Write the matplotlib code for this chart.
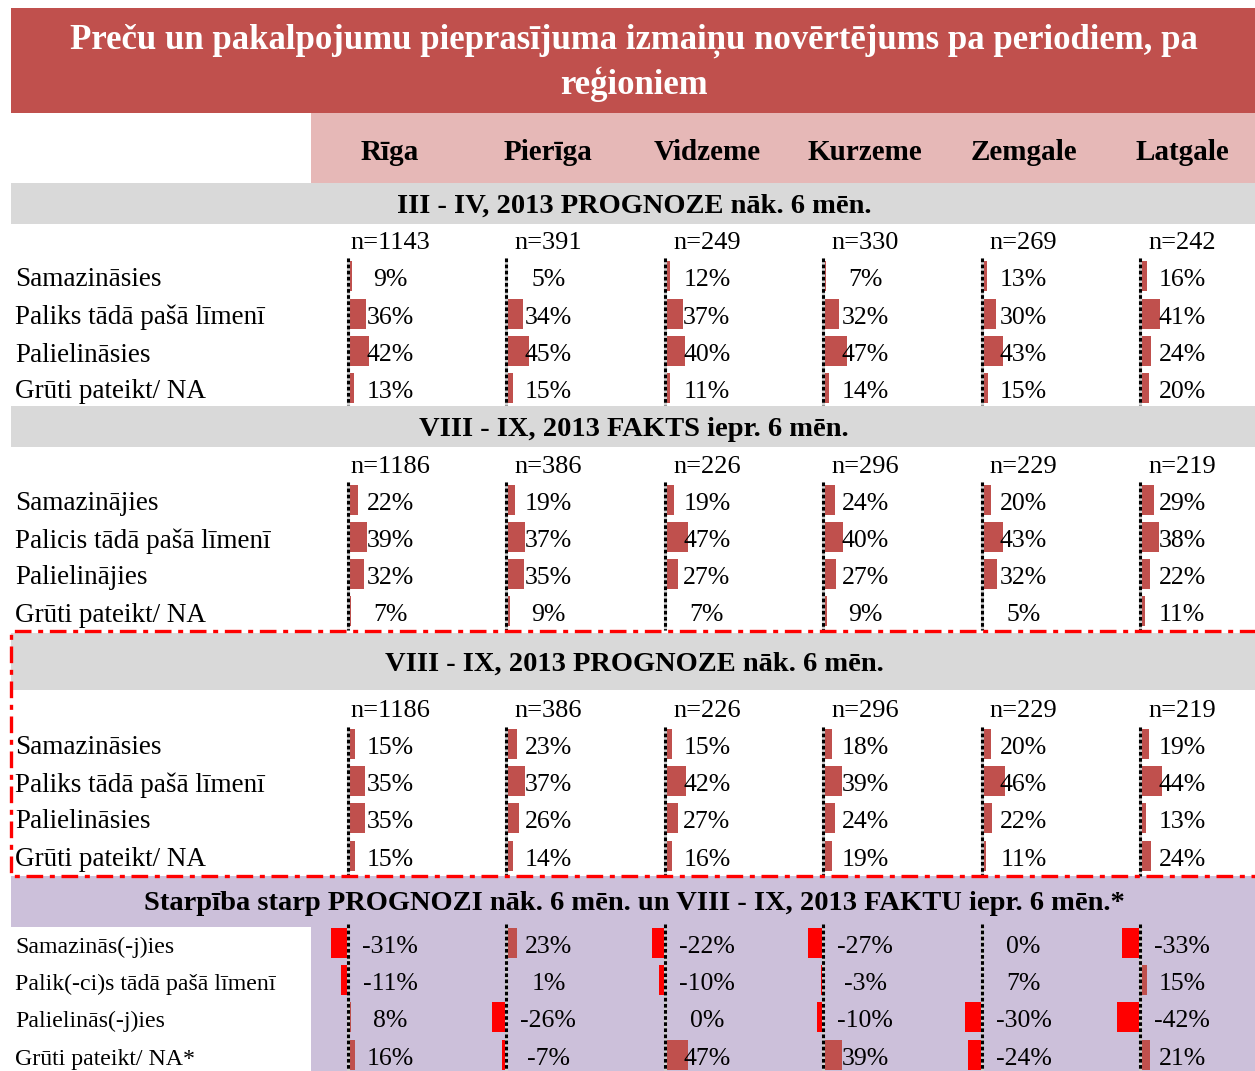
import numpy as np
import matplotlib.pyplot as plt
from matplotlib.patches import Rectangle

plt.rcParams['font.family'] = ['Liberation Serif', 'DejaVu Serif']

title = "Preču un pakalpojumu pieprasījuma izmaiņu novērtējums pa periodiem, pa\nreģioniem"
regions = ['Rīga', 'Pierīga', 'Vidzeme', 'Kurzeme', 'Zemgale', 'Latgale']

sec1_title = "III - IV, 2013 PROGNOZE nāk. 6 mēn."
sec2_title = "VIII - IX, 2013 FAKTS iepr. 6 mēn."
sec3_title = "VIII - IX, 2013 PROGNOZE nāk. 6 mēn."
sec4_title = "Starpība starp PROGNOZI nāk. 6 mēn. un VIII - IX, 2013 FAKTU iepr. 6 mēn.*"

labels_prog = ['Samazināsies', 'Paliks tādā pašā līmenī', 'Palielināsies', 'Grūti pateikt/ NA']
labels_fakt = ['Samazinājies', 'Palicis tādā pašā līmenī', 'Palielinājies', 'Grūti pateikt/ NA']
labels_diff = ['Samazinās(-j)ies', 'Palik(-ci)s tādā pašā līmenī', 'Palielinās(-j)ies', 'Grūti pateikt/ NA*']

n_prog_34 = [1143, 391, 249, 330, 269, 242]
n_fakt_89 = [1186, 386, 226, 296, 229, 219]
n_prog_89 = [1186, 386, 226, 296, 229, 219]

# values per region: [decrease, same, increase, hard to say]
prog_34 = [[9, 36, 42, 13], [5, 34, 45, 15], [12, 37, 40, 11],
           [7, 32, 47, 14], [13, 30, 43, 15], [16, 41, 24, 20]]
fakt_89 = [[22, 39, 32, 7], [19, 37, 35, 9], [19, 47, 27, 7],
           [24, 40, 27, 9], [20, 43, 32, 5], [29, 38, 22, 11]]
prog_89 = [[15, 35, 35, 15], [23, 37, 26, 14], [15, 42, 27, 16],
           [18, 39, 24, 19], [20, 46, 22, 11], [19, 44, 13, 24]]
diff = [[-31, -11, 8, 16], [23, 1, -26, -7], [-22, -10, 0, 47],
        [-27, -3, -10, 39], [0, 7, -30, -24], [-33, 15, -42, 21]]

W, H = 1255, 1071
RED = '#C0504D'
PINK = '#E6B8B7'
GRAY = '#D9D9D9'
PURPLE = '#CCC0DA'

fig = plt.figure(figsize=(W / 100, H / 100), dpi=100)
ax = fig.add_axes([0, 0, 1, 1])
ax.set_xlim(0, W)
ax.set_ylim(H, 0)
ax.axis('off')

def band(x0, y0, x1, y1, color):
    ax.add_patch(Rectangle((x0, y0), x1 - x0, y1 - y0, facecolor=color, edgecolor='none', zorder=0))

# backgrounds
band(11, 8, W, 113, RED)
band(311, 113, W, 183, PINK)
band(11, 183, W, 224, GRAY)
band(11, 406, W, 447, GRAY)
band(11, 633, W, 690, GRAY)
band(11, 876, W, 927, PURPLE)
band(311, 927, W, H, PURPLE)

ax.text(634, 63, title, ha='center', va='center', color='white', fontsize=25,
        fontweight='bold', linespacing=1.3)

col_x = 348 + 158.4 * np.arange(len(regions))
txt_off = 42
scale = 0.52

for x, r in zip(col_x, regions):
    ax.text(x + txt_off, 152, r, ha='center', va='center', fontsize=21, fontweight='bold')

for y, t in [(206, sec1_title), (430, sec2_title), (664, sec3_title), (904, sec4_title)]:
    ax.text(634, y, t, ha='center', va='center', fontsize=20.5, fontweight='bold')

def section(n_vals, labels, data, n_y, rows_y, line_y0, line_y1, lab_size=19.5):
    rows_y = np.array(rows_y)
    if n_vals is not None:
        for x, n in zip(col_x, n_vals):
            ax.text(x + txt_off, n_y + 2, f'n={n}', ha='center', va='center', fontsize=19)
    for y, lab in zip(rows_y, labels):
        ax.text(15, y + 4, lab, ha='left', va='center', fontsize=lab_size)
    for x, vals in zip(col_x, data):
        vals = np.array(vals)
        colors = [RED if v >= 0 else '#FF0000' for v in vals]
        ax.barh(rows_y, vals * scale, left=x - 1, height=30, color=colors, zorder=2)
        for y, v in zip(rows_y, vals):
            ax.text(x + txt_off, y + 4, f'{v}%', ha='center', va='center', fontsize=18.5, zorder=4)
        ax.plot([x, x], [line_y0, line_y1], color='#d0d0d0', lw=2.2, zorder=3, solid_capstyle='butt')
        ax.plot([x, x], [line_y0, line_y1], color='black', lw=2.2, zorder=3,
                dashes=(1.2, 0.8), solid_capstyle='butt')

section(n_prog_34, labels_prog, prog_34, 241, [276, 313.5, 351, 388], 258, 405)
section(n_fakt_89, labels_fakt, fakt_89, 465, [500, 537, 574, 611], 482, 630)
section(n_prog_89, labels_prog, prog_89, 709, [744, 781, 818, 856], 727, 876)
section(None, labels_diff, diff, None, [943, 980, 1017, 1055], 924, H, lab_size=17.2)

# red dash-dot frame around the latest forecast (right edge lies outside the picture)
ax.plot([W + 10, 11, 11, W + 10], [631, 631, 876, 876], color='#FF0000', lw=2.4,
        dashes=(5, 2, 1.5, 2), zorder=5)

fig.savefig('out.png', dpi=100)
